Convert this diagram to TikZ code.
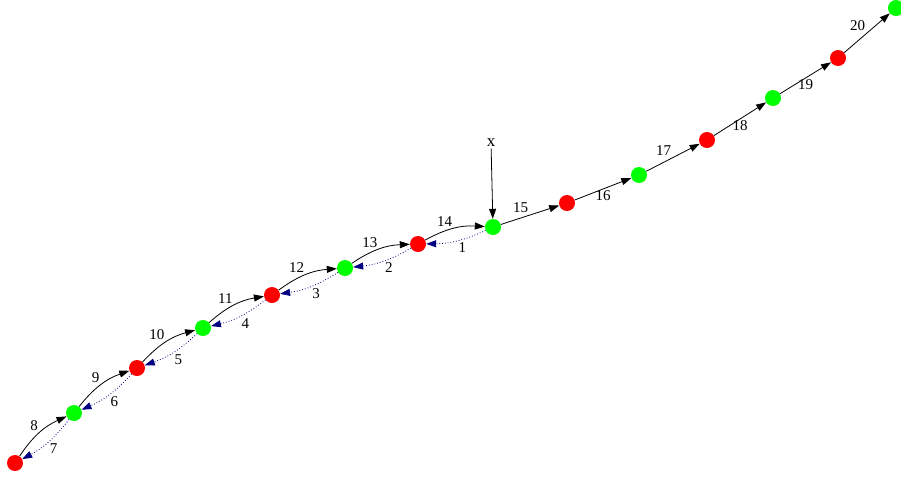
\documentclass[tikz,border=0pt]{standalone}
\usepackage{fontspec}
\setmainfont{Liberation Serif}
\usepackage{tikz}
\usetikzlibrary{arrows.meta, positioning}
\definecolor{navyblue}{RGB}{0,0,128}
\begin{document}
\begin{tikzpicture}[x=1pt, y=-1pt,
  red/.style={circle, fill={rgb,255:red,255;green,0;blue,0}, minimum size=16pt, inner sep=0pt},
  green/.style={circle, fill={rgb,255:red,0;green,255;blue,0}, minimum size=16pt, inner sep=0pt},
  fwd/.style={-{Triangle[length=10pt, width=7pt]}, line width=0.8pt, black},
  back/.style={-{Triangle[length=10pt, width=7pt]}, line width=0.8pt, navyblue, dotted},
  lbl/.style={font=\fontsize{15}{17}\selectfont, text=black, inner sep=1.5pt}]
\useasboundingbox (0,0) rectangle (901,480);
\node[red] (n0) at (15,463) {};
\node[green] (n1) at (74,413) {};
\node[red] (n2) at (137,368) {};
\node[green] (n3) at (203,328) {};
\node[red] (n4) at (272,295) {};
\node[green] (n5) at (345,268) {};
\node[red] (n6) at (418,244) {};
\node[green] (n7) at (493,227) {};
\node[red] (n8) at (567,203) {};
\node[green] (n9) at (639,175) {};
\node[red] (n10) at (707,140) {};
\node[green] (n11) at (773,98) {};
\node[red] (n12) at (838,58) {};
\node[green] (n13) at (896,8) {};
\node[lbl, font=\fontsize{17}{19}\selectfont] (x) at (491,143) {x};
\draw[fwd] (x) -- (n7);
% dotted way back
\draw[back] (n7) to[bend left=12] node[lbl, midway, below right] {1} (n6);
\draw[back] (n6) to[bend left=12] node[lbl, midway, below right] {2} (n5);
\draw[back] (n5) to[bend left=12] node[lbl, midway, below right] {3} (n4);
\draw[back] (n4) to[bend left=12] node[lbl, midway, below right] {4} (n3);
\draw[back] (n3) to[bend left=12] node[lbl, midway, below right] {5} (n2);
\draw[back] (n2) to[bend left=12] node[lbl, midway, below right] {6} (n1);
\draw[back] (n1) to[bend left=12] node[lbl, midway, below right] {7} (n0);
% solid way up
\draw[fwd] (n0) to[bend left=16] node[lbl, midway, above left] {8} (n1);
\draw[fwd] (n1) to[bend left=16] node[lbl, midway, above left] {9} (n2);
\draw[fwd] (n2) to[bend left=16] node[lbl, midway, above left] {10} (n3);
\draw[fwd] (n3) to[bend left=16] node[lbl, midway, above left] {11} (n4);
\draw[fwd] (n4) to[bend left=16] node[lbl, midway, above left] {12} (n5);
\draw[fwd] (n5) to[bend left=16] node[lbl, midway, above left] {13} (n6);
\draw[fwd] (n6) to[bend left=16] node[lbl, midway, above left] {14} (n7);
\draw[fwd] (n7) -- node[lbl, midway, above left] {15} (n8);
\draw[fwd] (n8) -- node[lbl, midway, below] {16} (n9);
\draw[fwd] (n9) -- node[lbl, midway, above left] {17} (n10);
\draw[fwd] (n10) -- node[lbl, midway, below] {18} (n11);
\draw[fwd] (n11) -- node[lbl, midway, below] {19} (n12);
\draw[fwd] (n12) -- node[lbl, midway, above left] {20} (n13);
\end{tikzpicture}
\end{document}
